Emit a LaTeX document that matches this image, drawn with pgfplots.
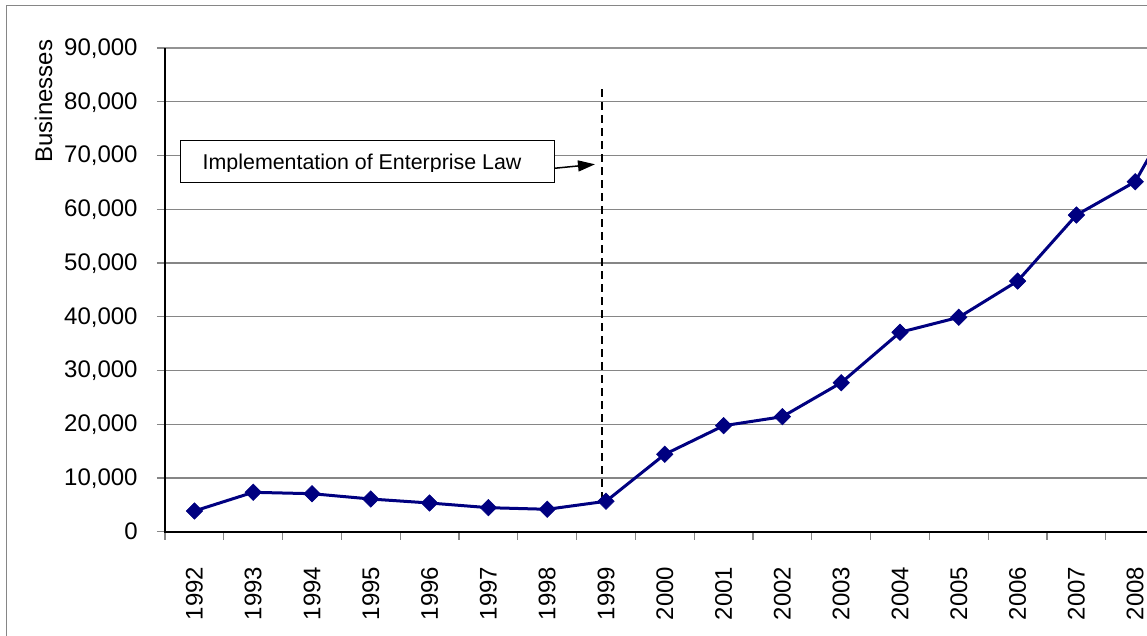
\documentclass[border=0pt]{standalone}
\usepackage{fontspec}
\setmainfont{Liberation Sans}
\usepackage{pgfplots}
\pgfplotsset{compat=1.18}
\usetikzlibrary{arrows.meta}
\definecolor{navy}{HTML}{000080}
\definecolor{gridgray}{HTML}{868686}
\begin{document}
\begin{tikzpicture}
\useasboundingbox (0,0) rectangle (573.5bp,318bp);
\clip (0,0) rectangle (573.5bp,318bp);
\begin{scope}[x=0.5bp,y=-0.5bp,yshift=318bp]
\draw[gridgray, line width=0.5bp] (6.7,6) rectangle (1300,800);
\end{scope}
\begin{axis}[
  at={(82.5bp,52.15bp)}, anchor=south west,
  scale only axis, width=529.2bp, height=241.85bp,
  xmin=-0.5, xmax=17.5, ymin=0, ymax=90000,
  clip=false,
  axis line style={draw=none},
  tick align=outside,
  xtick pos=bottom, ytick pos=left,
  major tick length=4bp,
  tick style={gridgray, line width=0.6bp},
  xtick={-0.5,0.5,1.5,2.5,3.5,4.5,5.5,6.5,7.5,8.5,9.5,10.5,11.5,12.5,13.5,14.5,15.5,16.5,17.5},
  xticklabels={1992,1993,1994,1995,1996,1997,1998,1999,2000,2001,2002,2003,2004,2005,2006,2007,2008,2009,{}},
  ytick={0,10000,20000,30000,40000,50000,60000,70000,80000,90000},
  scaled y ticks=false,
  /pgf/number format/.cd, 1000 sep={,}, assume math mode=true, /pgfplots/.cd,
  ymajorgrids=true,
  major grid style={gridgray, line width=0.6bp},
  tick label style={font=\fontsize{12bp}{14bp}\selectfont},
  yticklabel style={anchor=base east, inner sep=0pt, xshift=-9.5bp, yshift=-3.75bp},
  xticklabel style={xshift=14.7bp, yshift=-13.3bp, rotate=90, anchor=east, inner sep=0pt},
]
\draw[black, line width=1bp, dash pattern=on 4bp off 2.5bp] (axis cs:6.93,82300) -- (axis cs:6.93,5660);
\addplot[navy, line width=1.5bp, mark=square*, mark size=2.9bp, mark options={rotate=45, fill=navy, line width=0.3bp}]
  coordinates {
  (0,3850) (1,7330) (2,7070) (3,6080) (4,5340) (5,4470) (6,4170) (7,5660)
  (8,14400) (9,19720) (10,21400) (11,27720) (12,37100) (13,39890)
  (14,46640) (15,58920) (16,65120) (17,84500)
  };
\draw[gray!85, line width=1.2bp] (rel axis cs:0,1) -- (rel axis cs:1,1);
\draw[black, line width=1bp] (rel axis cs:0,1) -- (rel axis cs:0,0) -- (rel axis cs:1,0);
\end{axis}
\begin{scope}[x=0.5bp,y=-0.5bp,yshift=318bp]
\node[rotate=90, anchor=base west, inner sep=0pt, font=\fontsize{12bp}{14bp}\selectfont] at (52,163) {Businesses};
\draw[black, line width=0.75bp, fill=white] (180.7,140.7) rectangle (554.3,182.3);
\begin{scope}
\clip (181,141) rectangle (554,172);
\node[anchor=base west, inner sep=0pt, font=\fontsize{10.7bp}{12bp}\selectfont] at (202.3,170) {Implementation of Enterprise Law};
\end{scope}
\draw[black, line width=0.75bp, -{Triangle[length=8.5bp,width=5.5bp]}] (554.3,168.3) -- (595,164.3);
\end{scope}
\end{tikzpicture}
\end{document}
